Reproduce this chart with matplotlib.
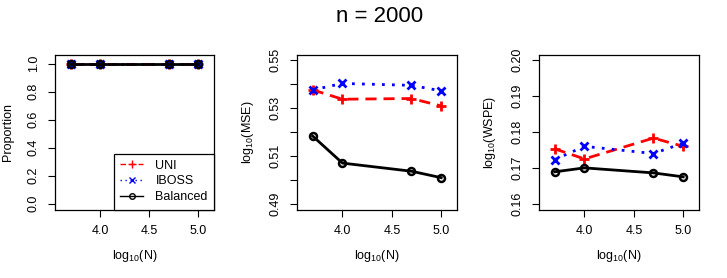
import matplotlib
matplotlib.use("Agg")
import matplotlib.pyplot as plt
import numpy as np

plt.rcParams["font.family"] = ["Liberation Sans", "DejaVu Sans"]
plt.rcParams["mathtext.fontset"] = "custom"
plt.rcParams["mathtext.rm"] = "Liberation Sans"
plt.rcParams["mathtext.it"] = "Liberation Sans"

# data
log_N = np.log10([5000, 10000, 50000, 100000])

prop_uni = [1.0, 1.0, 1.0, 1.0]
prop_iboss = [1.0, 1.0, 1.0, 1.0]
prop_bal = [1.0, 1.0, 1.0, 1.0]

mse_uni = [0.5376, 0.5337, 0.5340, 0.5309]
mse_iboss = [0.5376, 0.5403, 0.5395, 0.5372]
mse_bal = [0.5183, 0.5070, 0.5036, 0.5009]

wspe_uni = [0.1753, 0.1725, 0.1783, 0.1760]
wspe_iboss = [0.1723, 0.1760, 0.1740, 0.1769]
wspe_bal = [0.1689, 0.1700, 0.1686, 0.1675]

x_ticks = [4.0, 4.5, 5.0]
prop_ticks = [0.0, 0.2, 0.4, 0.6, 0.8, 1.0]
prop_labels = ["0.0", "0.2", "0.4", "0.6", "0.8", "1.0"]
# R drops every other label on the MSE axis (overlap)
mse_ticks = [0.49, 0.50, 0.51, 0.52, 0.53, 0.54, 0.55]
mse_labels = ["0.49", "", "0.51", "", "0.53", "", "0.55"]
wspe_ticks = [0.16, 0.17, 0.18, 0.19, 0.20]
wspe_labels = ["0.16", "0.17", "0.18", "0.19", "0.20"]

FS = 9


def r_lim(lo, hi):
    ext = 0.04 * (hi - lo)
    return lo - ext, hi + ext


def draw(ax, uni, iboss, bal, ylim, yticks, ylabels, ylabel):
    ax.plot(log_N, uni, color="red", ls=(0, (4, 2.5)), lw=2,
            marker="+", ms=7, mew=2, label="UNI")
    ax.plot(log_N, iboss, color="blue", ls=(0, (1, 2.6)), lw=2,
            marker="x", ms=6, mew=2, label="IBOSS")
    ax.plot(log_N, bal, color="black", ls="-", lw=2,
            marker="o", ms=5, mew=1.8, mfc="none", label="Balanced")
    ax.set_xlim(*r_lim(3.6, 5.1))
    ax.set_ylim(*ylim)
    ax.set_xticks(x_ticks)
    ax.set_xticklabels([f"{t:.1f}" for t in x_ticks], fontsize=FS)
    ax.set_yticks(yticks)
    ax.set_yticklabels(ylabels, fontsize=FS, rotation=90, va="center")
    ax.tick_params(direction="out", length=5, width=0.8, pad=6)
    ax.set_xlabel("log$_{10}$(N)", fontsize=FS, labelpad=8)
    ax.set_ylabel(ylabel, fontsize=FS, labelpad=10)
    for s in ax.spines.values():
        s.set_linewidth(0.9)


fig = plt.figure(figsize=(7.27, 2.78), dpi=100)
W, H = 727, 278
bottom = (H - 209.5) / H
height = (209.5 - 54.5) / H
ax1 = fig.add_axes([55 / W, bottom, 159 / W, height])
ax2 = fig.add_axes([297 / W, bottom, 160 / W, height])
ax3 = fig.add_axes([539 / W, bottom, 160 / W, height])

draw(ax1, prop_uni, prop_iboss, prop_bal, (-0.042, 1.065), prop_ticks,
     prop_labels, "Proportion")
draw(ax2, mse_uni, mse_iboss, mse_bal, r_lim(0.49, 0.55), mse_ticks,
     mse_labels, "log$_{10}$(MSE)")
draw(ax3, wspe_uni, wspe_iboss, wspe_bal, r_lim(0.16, 0.20), wspe_ticks,
     wspe_labels, "log$_{10}$(WSPE)")

leg = ax1.legend(loc="lower right", bbox_to_anchor=(1, 0), borderaxespad=0,
                 fontsize=FS, fancybox=False, framealpha=1,
                 edgecolor="black", handlelength=1.8, handletextpad=1.0,
                 labelspacing=0.3, borderpad=0.5, markerscale=0.8)
leg.get_frame().set_linewidth(0.9)
for h in leg.get_lines():
    h.set_linewidth(1)
    h.set_markeredgewidth(1)

fig.text(380 / W, 1 - 16 / H, "n = 2000", fontsize=16, ha="center", va="center")

fig.savefig("out.png", dpi=100)
